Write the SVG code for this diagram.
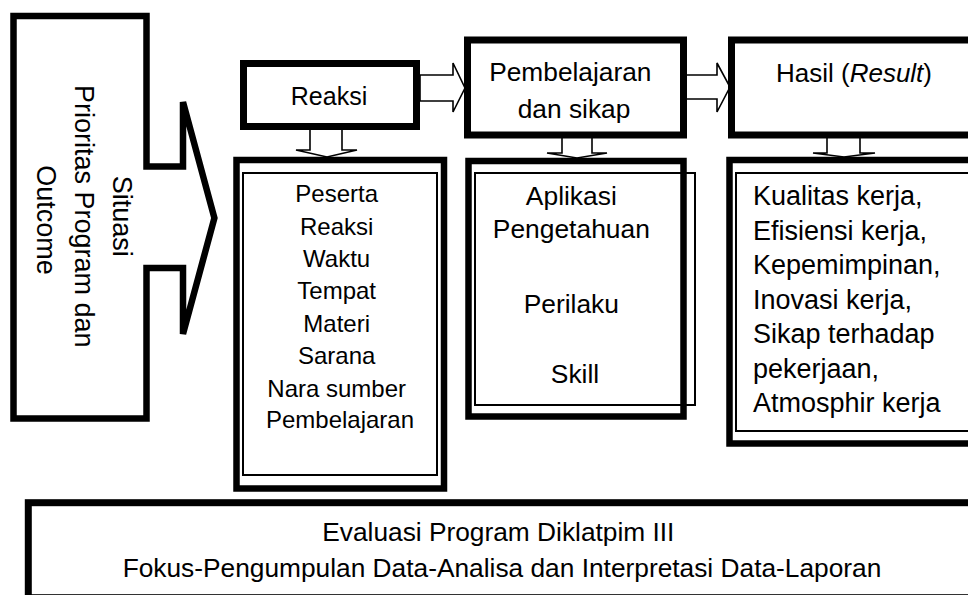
<svg xmlns="http://www.w3.org/2000/svg" width="968" height="595" viewBox="0 0 968 595">
<style>
  .thick { fill: #fff; stroke: #000; stroke-width: 7; }
  .mid { fill: #fff; stroke: #000; stroke-width: 6.5; }
  .thin { fill: none; stroke: #000; stroke-width: 2; }
  .arrow { fill: #fff; stroke: #000; stroke-width: 1.6; stroke-linejoin: miter; }
  text { font-family: "Liberation Sans", Arial, sans-serif; fill: #000; }
  .c { text-anchor: middle; }
</style>
<rect width="968" height="595" fill="#fff"/>

<g id="connectors">
  <polygon class="arrow" points="420,75 453,75 453,63 465,88 453,112 453,101 420,101"/>
  <polygon class="arrow" points="685,75 717,75 717,63 730,87 717,112 717,99 685,99"/>
  <polygon class="arrow" points="310,128 342,128 342,150 357,150 327,157 296,150 310,150"/>
  <polygon class="arrow" points="562,136 592,136 592,153 607,153 577,158 547,153 562,153"/>
  <polygon class="arrow" points="827,136 860,136 860,153 875,153 844,157 813,153 827,153"/>
</g>

<g id="situasi">
  <path class="mid" d="M13.5,16 H146.5 V166.5 H183 V102 L214.4,218 L183,334 V268 H146.5 V418.5 H13.5 Z"/>
  <text class="c" font-size="27" transform="translate(0,220) rotate(90)">
    <tspan x="0" y="-113">Situasi</tspan>
    <tspan x="0" y="-75">Prioritas Program dan</tspan>
    <tspan x="0" y="-37">Outcome</tspan>
  </text>
</g>

<g id="reaksi">
  <rect class="thick" x="243.5" y="63.5" width="173" height="63"/>
  <text class="c" x="329" y="105" font-size="25">Reaksi</text>
</g>

<g id="pembelajaran">
  <rect class="thick" x="467.5" y="40" width="216" height="95"/>
  <text class="c" font-size="26.3">
    <tspan x="574" y="81">Pembelajaran</tspan>
    <tspan x="574" y="118">dan sikap</tspan>
  </text>
</g>

<g id="hasil">
  <rect class="thick" x="731.5" y="40" width="260" height="95"/>
  <text class="c" x="854" y="82" font-size="26">Hasil (<tspan font-style="italic">Result</tspan>)</text>
</g>

<g id="reaksi-list">
  <rect class="mid" x="236.5" y="160" width="207.5" height="328.5"/>
  <rect class="thin" x="243" y="173" width="194" height="302"/>
  <text class="c" font-size="24">
    <tspan x="340" y="202">Peserta</tspan>
    <tspan x="340" y="235">Reaksi</tspan>
    <tspan x="340" y="267">Waktu</tspan>
    <tspan x="340" y="299">Tempat</tspan>
    <tspan x="340" y="332">Materi</tspan>
    <tspan x="340" y="364">Sarana</tspan>
    <tspan x="340" y="397">Nara sumber</tspan>
    <tspan x="340" y="428">Pembelajaran</tspan>
  </text>
</g>

<g id="pembelajaran-list">
  <rect class="mid" x="468.5" y="161" width="215" height="255.5"/>
  <rect class="thin" x="475" y="173" width="220" height="232"/>
  <text class="c" font-size="26.4">
    <tspan x="575" y="205">Aplikasi</tspan>
    <tspan x="575" y="238">Pengetahuan</tspan>
    <tspan x="575" y="313">Perilaku</tspan>
    <tspan x="575" y="383">Skill</tspan>
  </text>
</g>

<g id="hasil-list">
  <rect class="mid" x="729.5" y="160" width="260" height="283.5"/>
  <rect class="thin" x="736" y="173" width="250" height="258"/>
  <text font-size="27">
    <tspan x="753" y="205">Kualitas kerja,</tspan>
    <tspan x="753" y="239.5">Efisiensi kerja,</tspan>
    <tspan x="753" y="274">Kepemimpinan,</tspan>
    <tspan x="753" y="308.5">Inovasi kerja,</tspan>
    <tspan x="753" y="343">Sikap terhadap</tspan>
    <tspan x="753" y="377.5">pekerjaan,</tspan>
    <tspan x="753" y="412">Atmosphir kerja</tspan>
  </text>
</g>

<g id="evaluasi">
  <rect class="thick" x="28.3" y="502.7" width="960" height="95"/>
  <text class="c" font-size="26.3">
    <tspan x="502" y="541">Evaluasi Program Diklatpim III</tspan>
    <tspan x="502" y="577">Fokus-Pengumpulan Data-Analisa dan Interpretasi Data-Laporan</tspan>
  </text>
</g>
</svg>
